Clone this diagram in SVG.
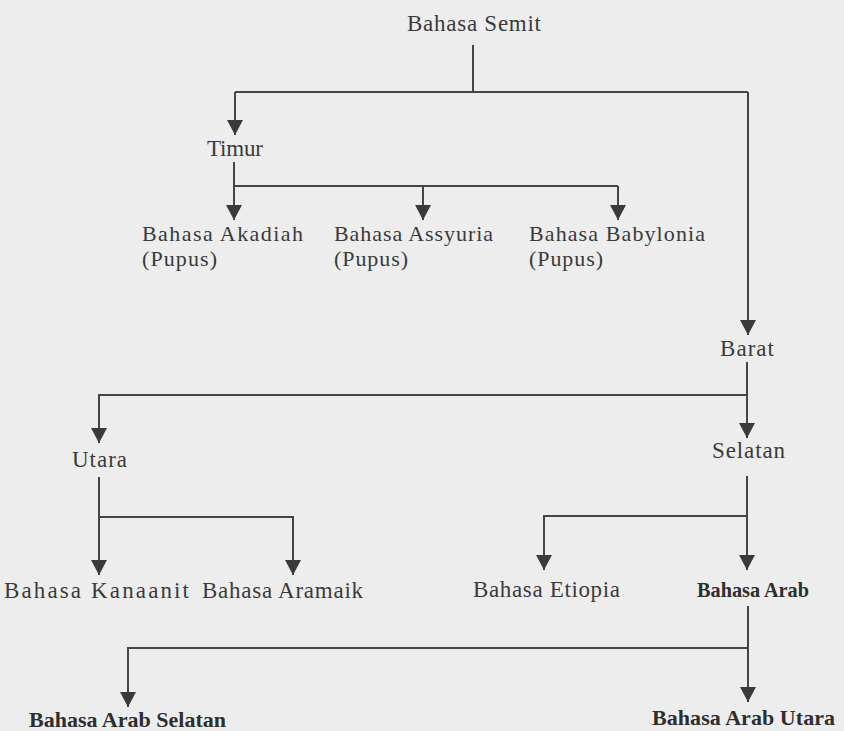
<svg xmlns="http://www.w3.org/2000/svg" width="844" height="731" viewBox="0 0 844 731">
  <defs>
    <marker id="arrd" markerUnits="userSpaceOnUse" markerWidth="16" markerHeight="15" refX="7.5" refY="14" orient="0" viewBox="0 0 15 14">
      <path d="M0,0 L15,0 L7.5,14 Z" fill="#3a3a3a"/>
    </marker>
    <style>
      .t{font-family:"Liberation Serif","Times New Roman",serif;font-size:23px;fill:#3a3a3a}
      .s{font-size:22px}
      .b{font-weight:bold;fill:#2e2e2e;font-size:22px}
      .c{fill:none;stroke:#454545;stroke-width:2}
      .a{marker-end:url(#arrd)}
    </style>
  </defs>
  <rect width="844" height="731" fill="#ededed"/>

  <g id="connectors">
    <path class="c" d="M473,45 V92 M235,92 H748"/>
    <path class="c a" d="M235,92 V135"/>
    <path class="c a" d="M748,92 V335"/>
    <path class="c" d="M234,162 V186 H618"/>
    <path class="c a" d="M234,186 V220"/>
    <path class="c a" d="M423,186 V220"/>
    <path class="c a" d="M618,186 V220"/>
    <path class="c a" d="M747,362 V438"/>
    <path class="c a" d="M747,395 H99 V443"/>
    <path class="c a" d="M99,477 V575"/>
    <path class="c a" d="M99,517 H293 V575"/>
    <path class="c a" d="M747,476 V570"/>
    <path class="c a" d="M747,516 H544 V570"/>
    <path class="c a" d="M748,606 V702"/>
    <path class="c a" d="M748,648 H128 V707"/>
  </g>

  <g id="semit"><text class="t" x="407" y="31" textLength="134" lengthAdjust="spacing">Bahasa Semit</text></g>
  <g id="timur"><text class="t" x="207" y="156" textLength="56" lengthAdjust="spacing">Timur</text></g>
  <g id="akadiah">
    <text class="t s" x="142" y="241" textLength="161" lengthAdjust="spacing">Bahasa Akadiah</text>
    <text class="t s" x="142" y="266" textLength="75" lengthAdjust="spacing">(Pupus)</text>
  </g>
  <g id="assyuria">
    <text class="t s" x="334" y="241" textLength="159" lengthAdjust="spacing">Bahasa Assyuria</text>
    <text class="t s" x="334" y="266" textLength="74" lengthAdjust="spacing">(Pupus)</text>
  </g>
  <g id="babylonia">
    <text class="t s" x="529" y="241" textLength="176" lengthAdjust="spacing">Bahasa Babylonia</text>
    <text class="t s" x="529" y="266" textLength="74" lengthAdjust="spacing">(Pupus)</text>
  </g>
  <g id="barat"><text class="t" x="720" y="356" textLength="54" lengthAdjust="spacing">Barat</text></g>
  <g id="selatan"><text class="t" x="712" y="458" textLength="73" lengthAdjust="spacing">Selatan</text></g>
  <g id="utara"><text class="t" x="72" y="467" textLength="55" lengthAdjust="spacing">Utara</text></g>
  <g id="kanaanit"><text class="t" x="4" y="598" textLength="185" lengthAdjust="spacing">Bahasa Kanaanit</text></g>
  <g id="aramaik"><text class="t" x="202" y="598" textLength="161" lengthAdjust="spacing">Bahasa Aramaik</text></g>
  <g id="etiopia"><text class="t" x="473" y="597" textLength="147" lengthAdjust="spacing">Bahasa Etiopia</text></g>
  <g id="arab"><text class="t b" x="697" y="597" textLength="112" lengthAdjust="spacingAndGlyphs">Bahasa Arab</text></g>
  <g id="arab-selatan"><text class="t b" x="29" y="727" textLength="197" lengthAdjust="spacing">Bahasa Arab Selatan</text></g>
  <g id="arab-utara"><text class="t b" x="652" y="725" textLength="183" lengthAdjust="spacing">Bahasa Arab Utara</text></g>
</svg>
